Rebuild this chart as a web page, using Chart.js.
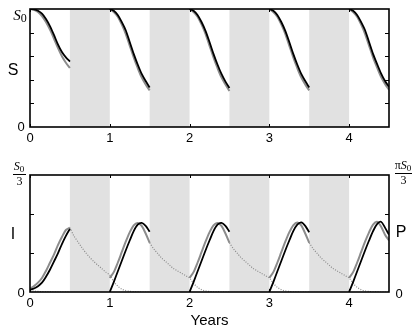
<!DOCTYPE html>
<html>
<head>
<meta charset="utf-8">
<script src="https://cdn.jsdelivr.net/npm/chart.js@4/dist/chart.umd.min.js"></script>
<style>
  html, body { margin: 0; padding: 0; background: #fff; }
  #wrap { position: relative; width: 412px; height: 330px; }
  canvas { position: absolute; left: 0; }
  #topChart { top: 0; }
  #botChart { top: 150px; }
</style>
</head>
<body>
<div id="wrap">
  <canvas id="topChart" width="412" height="150"></canvas>
  <canvas id="botChart" width="412" height="180"></canvas>
</div>
<script>
// sample times inside one season (years after season start)
var t = [0, 0.05, 0.1, 0.15, 0.2, 0.25, 0.3, 0.35, 0.4, 0.45, 0.5];
var tLong = [0, 0.05, 0.1, 0.15, 0.2, 0.25, 0.3, 0.35, 0.4, 0.45, 0.5,
             0.55, 0.6, 0.65, 0.7, 0.75, 0.8, 0.85, 0.9, 0.95, 1.0];
var years = [0, 1, 2, 3, 4];
var shadeStarts = [0.5, 1.5, 2.5, 3.5];
var xTicks = [0, 1, 2, 3, 4];

// S (fraction of S0), black and grey model
var sBlack = [
  [1.0, 0.997, 0.985, 0.96, 0.915, 0.855, 0.78, 0.70, 0.635, 0.59, 0.555],
  [1.0, 0.985, 0.95, 0.89, 0.82, 0.72, 0.62, 0.53, 0.45, 0.39, 0.335],
  [1.0, 0.985, 0.95, 0.89, 0.815, 0.72, 0.62, 0.53, 0.45, 0.385, 0.33],
  [1.0, 0.985, 0.95, 0.89, 0.815, 0.72, 0.62, 0.53, 0.45, 0.39, 0.335],
  [1.0, 0.985, 0.95, 0.89, 0.82, 0.72, 0.62, 0.535, 0.455, 0.39, 0.34]
];
var sGray = [
  [1.0, 0.993, 0.975, 0.94, 0.89, 0.825, 0.75, 0.67, 0.60, 0.545, 0.50],
  [1.0, 0.975, 0.935, 0.87, 0.79, 0.69, 0.59, 0.50, 0.42, 0.36, 0.31],
  [1.0, 0.975, 0.935, 0.87, 0.79, 0.69, 0.59, 0.50, 0.42, 0.36, 0.305],
  [1.0, 0.975, 0.935, 0.87, 0.79, 0.69, 0.59, 0.50, 0.42, 0.36, 0.31],
  [1.0, 0.975, 0.935, 0.87, 0.79, 0.69, 0.59, 0.505, 0.425, 0.365, 0.315]
];

// I (fraction of S0/3)
var iBlack = [
  [0.02, 0.03, 0.05, 0.08, 0.13, 0.19, 0.26, 0.33, 0.41, 0.48, 0.54],
  [0.0, 0.085, 0.175, 0.265, 0.355, 0.44, 0.52, 0.575, 0.59, 0.565, 0.515],
  [0.0, 0.085, 0.175, 0.265, 0.355, 0.44, 0.52, 0.575, 0.59, 0.565, 0.515],
  [0.0, 0.085, 0.175, 0.265, 0.355, 0.44, 0.52, 0.575, 0.595, 0.565, 0.51],
  [0.0, 0.085, 0.175, 0.265, 0.355, 0.44, 0.52, 0.58, 0.6, 0.55, 0.49]
];
var iGray = [
  [0.03, 0.05, 0.08, 0.12, 0.18, 0.25, 0.32, 0.40, 0.47, 0.53, 0.55],
  [0.12, 0.17, 0.25, 0.34, 0.43, 0.51, 0.57, 0.59, 0.565, 0.50, 0.42],
  [0.12, 0.17, 0.25, 0.34, 0.43, 0.51, 0.57, 0.59, 0.565, 0.50, 0.42],
  [0.12, 0.17, 0.25, 0.34, 0.43, 0.51, 0.57, 0.595, 0.57, 0.50, 0.42],
  [0.12, 0.17, 0.25, 0.34, 0.43, 0.51, 0.575, 0.6, 0.56, 0.49, 0.44]
];

// P (fraction of pi*S0/3), dotted
var pFirst = [0.012, 0.008, 0.005, 0.003, 0.002, 0.001, 0, 0, 0, 0, 0];
var pDecay = [
  [0.55, 0.48, 0.43, 0.38, 0.335, 0.295, 0.26, 0.23, 0.20, 0.17, 0.145,
   0.09, 0.05, 0.025, 0.012, 0.006, 0.003, 0.001, 0, 0, 0],
  [0.42, 0.37, 0.33, 0.29, 0.26, 0.23, 0.20, 0.18, 0.16, 0.14, 0.12,
   0.075, 0.04, 0.02, 0.01, 0.005, 0.002, 0.001, 0, 0, 0],
  [0.42, 0.37, 0.33, 0.29, 0.26, 0.23, 0.20, 0.18, 0.16, 0.14, 0.12,
   0.075, 0.04, 0.02, 0.01, 0.005, 0.002, 0.001, 0, 0, 0],
  [0.42, 0.37, 0.33, 0.29, 0.26, 0.23, 0.20, 0.18, 0.16, 0.14, 0.12,
   0.075, 0.04, 0.02, 0.01, 0.005, 0.002, 0.001, 0, 0, 0]
];

var SANS = "'Liberation Sans', Arial, sans-serif";
var SERIF = "'Liberation Serif', 'Times New Roman', serif";

function seasonPoints(rows) {
  var pts = [];
  years.forEach(function(y0, k) {
    rows[k].forEach(function(v, i) { pts.push({x: y0 + t[i], y: v}); });
    pts.push({x: y0 + 0.75, y: null});
  });
  return pts;
}

function pPoints() {
  var pts = pFirst.map(function(v, i) { return {x: t[i], y: v}; });
  pts.push({x: 0.5, y: null});
  shadeStarts.forEach(function(s0, k) {
    pDecay[k].forEach(function(v, i) { pts.push({x: s0 + tLong[i], y: v}); });
    pts.push({x: s0 + 1.0, y: null});
  });
  return pts;
}

function line(data, color, width, dash) {
  return {
    data: data, borderColor: color, borderWidth: width, borderDash: dash || [],
    pointRadius: 0, fill: false, tension: 0.3, spanGaps: false
  };
}

// shaded winters, frame with inward ticks, and the math labels
var panelPlugin = {
  id: 'panel',
  beforeDatasetsDraw: function(chart) {
    var ctx = chart.ctx, a = chart.chartArea, x = chart.scales.x;
    ctx.save();
    ctx.fillStyle = '#e1e1e1';
    shadeStarts.forEach(function(s0) {
      var l = x.getPixelForValue(s0), r = x.getPixelForValue(s0 + 0.5);
      ctx.fillRect(l, a.top, r - l, a.bottom - a.top);
    });
    ctx.restore();
  },
  afterDatasetsDraw: function(chart, args, opts) {
    var ctx = chart.ctx, a = chart.chartArea, x = chart.scales.x, y = chart.scales.y;
    ctx.save();
    ctx.strokeStyle = '#000';
    ctx.lineWidth = 1.6;
    ctx.strokeRect(a.left, a.top, a.right - a.left, a.bottom - a.top);
    ctx.lineWidth = 1;
    ctx.beginPath();
    xTicks.forEach(function(v) {
      var px = Math.round(x.getPixelForValue(v)) + 0.5;
      ctx.moveTo(px, a.bottom); ctx.lineTo(px, a.bottom - 3);
      ctx.moveTo(px, a.top); ctx.lineTo(px, a.top + 3);
    });
    opts.yTicks.forEach(function(v) {
      var py = Math.round(y.getPixelForValue(v)) + 0.5;
      ctx.moveTo(a.left, py); ctx.lineTo(a.left + 4, py);
      ctx.moveTo(a.right, py); ctx.lineTo(a.right - 4, py);
    });
    ctx.stroke();
    ctx.restore();
  },
  afterDraw: function(chart, args, opts) {
    var ctx = chart.ctx;
    ctx.save();
    ctx.fillStyle = '#000';
    opts.draw(ctx);
    ctx.restore();
  }
};

function subText(ctx, pre, main, sub, cx, base, size) {
  ctx.font = size + 'px ' + SERIF;
  var wPre = ctx.measureText(pre).width;
  ctx.font = 'italic ' + size + 'px ' + SERIF;
  var wMain = ctx.measureText(main).width;
  ctx.font = (size - 3) + 'px ' + SERIF;
  var wSub = ctx.measureText(sub).width;
  var x0 = cx - (wPre + wMain + wSub) / 2;
  ctx.textAlign = 'left';
  ctx.textBaseline = 'alphabetic';
  ctx.font = size + 'px ' + SERIF;
  ctx.fillText(pre, x0, base);
  ctx.font = 'italic ' + size + 'px ' + SERIF;
  ctx.fillText(main, x0 + wPre, base);
  ctx.font = (size - 3) + 'px ' + SERIF;
  ctx.fillText(sub, x0 + wPre + wMain, base + 2);
}

function fraction(ctx, pre, cx, barL, barR, barY) {
  subText(ctx, pre, 'S', '0', cx, barY - 4, 12);
  ctx.fillRect(barL, barY, barR - barL, 1);
  ctx.font = '12px ' + SERIF;
  ctx.textAlign = 'center';
  ctx.fillText('3', (barL + barR) / 2, barY + 11);
}

function plainText(ctx, s, x, y, size) {
  ctx.font = size + 'px ' + SANS;
  ctx.textAlign = 'center';
  ctx.textBaseline = 'middle';
  ctx.fillText(s, x, y);
}

function baseOptions(padTop, xHeight, showTitle, yTicks, draw) {
  return {
    responsive: false,
    animation: false,
    layout: { padding: { left: 30, right: 23, top: padTop, bottom: 0 } },
    plugins: {
      legend: { display: false },
      tooltip: { enabled: false },
      panel: { yTicks: yTicks, draw: draw }
    },
    scales: {
      x: {
        type: 'linear', min: 0, max: 4.5,
        afterBuildTicks: function(s) { s.ticks = xTicks.map(function(v) { return {value: v}; }); },
        afterFit: function(s) { s.height = xHeight; },
        grid: { display: false, drawTicks: false },
        border: { display: false },
        ticks: { color: '#000', font: { family: SANS, size: 13 }, padding: 4, maxRotation: 0 },
        title: { display: showTitle, text: 'Years', color: '#000',
                 font: { family: SANS, size: 15 }, padding: { top: 2, bottom: 0 } }
      },
      y: { min: 0, max: 1, display: false },
      yP: { min: 0, max: 1, display: false }
    }
  };
}

new Chart(document.getElementById('topChart'), {
  type: 'line',
  data: { datasets: [
    line(seasonPoints(sBlack), '#000', 1.8),
    line(seasonPoints(sGray), '#8c8c8c', 2)
  ] },
  options: baseOptions(9, 23, false, [0.2, 0.4, 0.6, 0.8], function(ctx) {
    subText(ctx, '', 'S', '0', 20, 20, 15);
    plainText(ctx, 'S', 13, 71, 16);
    plainText(ctx, '0', 21, 127, 13);
  }),
  plugins: [panelPlugin]
});

var pSet = line(pPoints(), '#8a8a8a', 1.2, [1, 1.5]);
pSet.yAxisID = 'yP';
new Chart(document.getElementById('botChart'), {
  type: 'line',
  data: { datasets: [
    line(seasonPoints(iBlack), '#000', 1.8),
    line(seasonPoints(iGray), '#8c8c8c', 2),
    pSet
  ] },
  options: baseOptions(25, 38, true, [1 / 3, 2 / 3], function(ctx) {
    fraction(ctx, '', 19, 13, 26, 24);
    fraction(ctx, '\u03c0', 403, 395, 412, 23);
    plainText(ctx, 'I', 13, 85, 16);
    plainText(ctx, 'P', 401, 83, 16);
    plainText(ctx, '0', 21, 143, 13);
    plainText(ctx, '0', 399, 144, 13);
  }),
  plugins: [panelPlugin]
});
</script>
</body>
</html>
